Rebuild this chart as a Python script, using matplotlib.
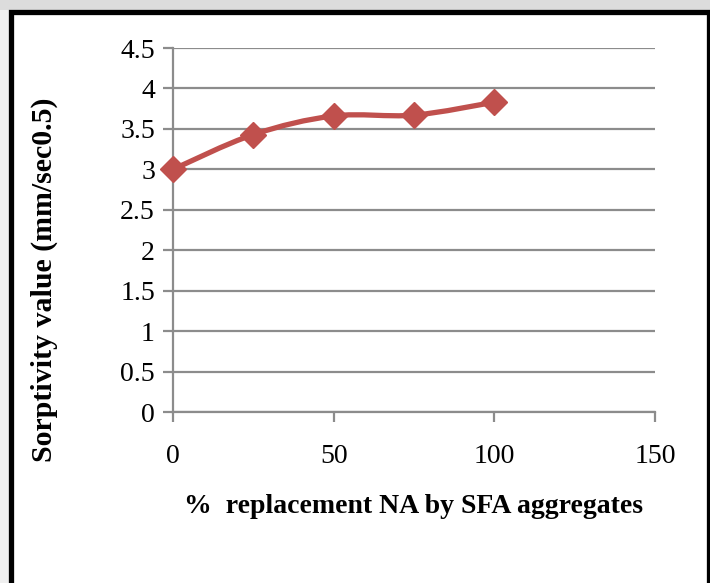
import numpy as np
import matplotlib.pyplot as plt
from matplotlib.path import Path
from matplotlib.patches import PathPatch, Rectangle

# Datos
replacement = [0, 25, 50, 75, 100]
sorptivity = [3.0, 3.43, 3.66, 3.67, 3.83]
x_ticks = [0, 50, 100, 150]
y_ticks = [0, 0.5, 1, 1.5, 2, 2.5, 3, 3.5, 4, 4.5]

red = '#C0504D'
grid = '#8C8C8C'

plt.rcParams['font.family'] = ['Liberation Serif', 'DejaVu Serif']

fig = plt.figure(figsize=(7.1, 5.83), dpi=100)
fig.patch.set_facecolor('white')

# fondo gris arriba y marco negro
fig.patches.append(Rectangle((0, 1 - 10 / 583), 1, 10 / 583, transform=fig.transFigure,
                             facecolor='#DCDCDC', edgecolor='none', zorder=-3))
fig.patches.append(Rectangle((0, 0), 9 / 710, 1 - 10 / 583, transform=fig.transFigure,
                             facecolor='#EFEFEF', edgecolor='none', zorder=-3))
fig.patches.append(Rectangle((10.5 / 710, -0.05), 698 / 710, 1.05 - 11.5 / 583,
                             transform=fig.transFigure, facecolor='white',
                             edgecolor='black', linewidth=3.8, zorder=-2))

ax = fig.add_axes([173 / 710, 171 / 583, 482 / 710, 364 / 583])
ax.set_zorder(2)
ax.set_facecolor('none')

# Curva suave (Bezier tipo Catmull-Rom) entre los puntos
x = np.array(replacement, dtype=float)
y = np.array(sorptivity, dtype=float)
verts = [(x[0], y[0])]
codes = [Path.MOVETO]
t = 1 / 6
for i in range(len(x) - 1):
    x0, y0 = (x[i - 1], y[i - 1]) if i > 0 else (x[i], y[i])
    x3, y3 = (x[i + 2], y[i + 2]) if i + 2 < len(x) else (x[i + 1], y[i + 1])
    c1 = (x[i] + (x[i + 1] - x0) * t, y[i] + (y[i + 1] - y0) * t)
    c2 = (x[i + 1] - (x3 - x[i]) * t, y[i + 1] - (y3 - y[i]) * t)
    verts += [c1, c2, (x[i + 1], y[i + 1])]
    codes += [Path.CURVE4] * 3
ax.add_patch(PathPatch(Path(verts, codes), facecolor='none', edgecolor=red,
                       linewidth=3.8, zorder=3, capstyle='round', joinstyle='round'))
ax.plot(replacement, sorptivity, linestyle='none', marker='D', markersize=13,
        color=red, zorder=4, clip_on=False)

ax.set_xlim(0, 150)
ax.set_ylim(0, 4.5)
ax.set_xticks(x_ticks)
ax.set_yticks(y_ticks)
ax.set_yticklabels(['0', '0.5', '1', '1.5', '2', '2.5', '3', '3.5', '4', '4.5'])
ax.grid(axis='y', color=grid, linewidth=1.6)
ax.set_axisbelow(True)
for s in ['top', 'right']:
    ax.spines[s].set_visible(False)
for s in ['left', 'bottom']:
    ax.spines[s].set_color(grid)
    ax.spines[s].set_linewidth(1.6)
ax.tick_params(axis='both', colors=grid, width=1.6, length=7, labelsize=20,
               labelcolor='black')
ax.tick_params(axis='x', pad=16)
ax.tick_params(axis='y', pad=6)

ax.set_xlabel('%  replacement NA by SFA aggregates', fontsize=20, fontweight='bold',
              labelpad=18)
ax.set_ylabel('Sorptivity value (mm/sec0.5)', fontsize=21.5, fontweight='bold')
ax.yaxis.set_label_coords(-0.238, 0.363)

fig.savefig('out.png', dpi=100)
